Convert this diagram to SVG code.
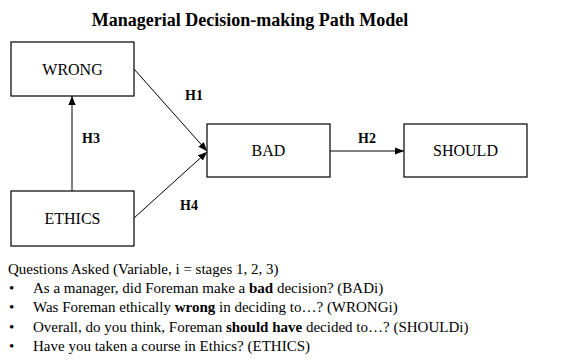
<svg xmlns="http://www.w3.org/2000/svg" width="579" height="360" viewBox="0 0 579 360">
<style>
.box{fill:#fff;stroke:#000;stroke-width:1.2}
.lbl{font-family:"Liberation Serif",serif;font-size:16px;text-anchor:middle;fill:#000}
.h{font-family:"Liberation Serif",serif;font-size:14px;font-weight:bold;fill:#000}
.q{font-family:"Liberation Serif",serif;font-size:15px;fill:#000}
.edge{stroke:#000;stroke-width:1;fill:none;marker-end:url(#ah)}
</style>
<defs>
<marker id="ah" viewBox="0 0 10 10" refX="10" refY="5" markerWidth="9" markerHeight="9" markerUnits="userSpaceOnUse" orient="auto">
<path d="M0,1 L10,5 L0,9 Z" fill="#000"/>
</marker>
</defs>
<rect width="579" height="360" fill="#fff"/>
<text x="250" y="26" font-family="Liberation Serif,serif" font-size="18" font-weight="bold" text-anchor="middle">Managerial Decision-making Path Model</text>
<g id="connectors">
<line class="edge" x1="72" y1="191" x2="72" y2="96"/>
<line class="edge" x1="134" y1="69" x2="207" y2="151"/>
<line class="edge" x1="134" y1="218" x2="207" y2="152"/>
<line class="edge" x1="330" y1="151" x2="404" y2="151"/>
<text class="h" x="185" y="100">H1</text>
<text class="h" x="82" y="143">H3</text>
<text class="h" x="358" y="143">H2</text>
<text class="h" x="180" y="210">H4</text>
</g>
<g id="wrong"><rect class="box" x="11" y="42" width="123" height="54"/><text class="lbl" x="72.5" y="75">WRONG</text></g>
<g id="bad"><rect class="box" x="207" y="124" width="123" height="53"/><text class="lbl" x="268.5" y="156">BAD</text></g>
<g id="should"><rect class="box" x="404" y="124" width="123" height="53"/><text class="lbl" x="465.5" y="156">SHOULD</text></g>
<g id="ethics"><rect class="box" x="11" y="191" width="123" height="55"/><text class="lbl" x="72.5" y="224">ETHICS</text></g>
<g id="questions">
<text class="q" x="8" y="274">Questions Asked (Variable, i = stages 1, 2, 3)</text>
<text class="q" x="9" y="293">•</text><text class="q" x="33" y="293">As a manager, did Foreman make a <tspan font-weight="bold">bad</tspan> decision? (BADi)</text>
<text class="q" x="9" y="312">•</text><text class="q" x="33" y="312">Was Foreman ethically <tspan font-weight="bold">wrong</tspan> in deciding to…? (WRONGi)</text>
<text class="q" x="9" y="332">•</text><text class="q" x="33" y="332">Overall, do you think, Foreman <tspan font-weight="bold">should have</tspan> decided to…? (SHOULDi)</text>
<text class="q" x="9" y="351">•</text><text class="q" x="33" y="351">Have you taken a course in Ethics? (ETHICS)</text>
</g>
</svg>
